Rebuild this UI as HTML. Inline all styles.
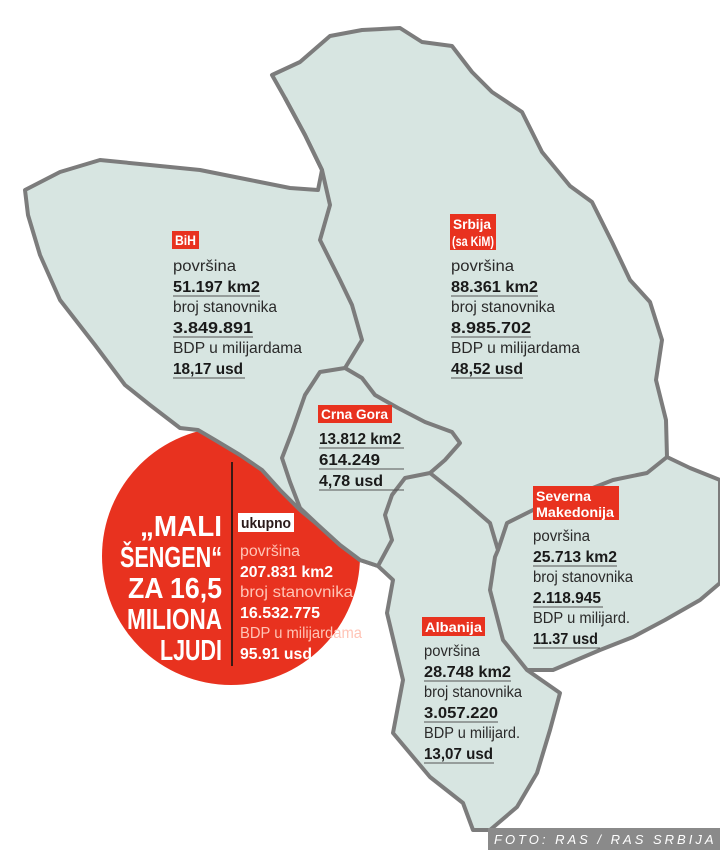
<!DOCTYPE html>
<html><head><meta charset="utf-8"><style>
body{margin:0;background:#fff;}
svg{display:block}
text{font-family:"Liberation Sans",sans-serif;}
.l{font-size:16px;fill:#2a2a2a}
.b{font-size:16px;fill:#1a1a1a;font-weight:bold}
.t{font-size:14px;fill:#fff;font-weight:bold}
.u{stroke:#555;stroke-width:1}
</style></head><body>
<svg width="720" height="866" viewBox="0 0 720 866">
<rect width="720" height="866" fill="#fff"/>
<circle cx="231" cy="556" r="129" fill="#e8321f"/>
<g fill="#d7e5e1" stroke="#7c7c7c" stroke-width="4" stroke-linejoin="round">
<path d="M272,75 L300,62 L330,36 L362,30 L400,28 L422,42 L452,46 L472,72 L492,92 L522,112 L542,152 L570,186 L592,202 L612,242 L630,280 L650,302 L662,340 L656,380 L666,420 L667,457 L690,468 L720,480 L720,583 L700,600 L665,620 L633,637 L600,650 L553,670 L527,670 L560,693 L550,730 L537,773 L517,807 L490,830 L473,830 L463,803 L430,777 L393,733 L403,680 L387,613 L393,580 L378,566 L360,560 L340,545 L318,525 L300,510 L280,490 L262,470 L240,455 L215,440 L198,430 L180,428 L150,405 L125,385 L95,345 L60,300 L40,255 L28,215 L25,190 L60,172 L100,160 L150,165 L200,170 L250,180 L290,188 L318,190 L322,170 L305,135 L285,98 Z"/>
<path fill="none" d="M285,98 L305,135 L322,170 L330,205 L320,240 L340,280 L352,305 L362,340 L345,368"/>
<path d="M345,368 L320,372 L305,395 L292,432 L282,458 L290,482 L300,508 L318,525 L340,545 L360,560 L378,566 L392,540 L385,515 L392,495 L405,478 L430,473 L445,460 L460,443 L452,432 L425,422 L398,408 L375,395 L362,378 Z"/>
<path fill="none" d="M430,473 L460,497 L490,523 L498,550 L495,557 L490,590 L503,640 L527,670"/>
<path fill="none" d="M498,550 L507,523 L533,510 L575,495 L613,480 L647,473 L667,457"/>
</g>
<g lengthAdjust="spacingAndGlyphs">
<!-- BiH -->
<rect x="172" y="231" width="27" height="18" fill="#e8321f"/><text class="t" x="175" y="245" textLength="21" lengthAdjust="spacingAndGlyphs">BiH</text>
<text class="l" x="173" y="271" textLength="63" lengthAdjust="spacingAndGlyphs">površina</text>
<text class="b" x="173" y="292" textLength="87" lengthAdjust="spacingAndGlyphs">51.197 km2</text><line class="u" x1="173" y1="296" x2="260" y2="296"/>
<text class="l" x="173" y="312" textLength="104" lengthAdjust="spacingAndGlyphs">broj stanovnika</text>
<text class="b" x="173" y="333" textLength="80" lengthAdjust="spacingAndGlyphs">3.849.891</text><line class="u" x1="173" y1="337" x2="253" y2="337"/>
<text class="l" x="173" y="353" textLength="129" lengthAdjust="spacingAndGlyphs">BDP u milijardama</text>
<text class="b" x="173" y="374" textLength="70" lengthAdjust="spacingAndGlyphs">18,17 usd</text><line class="u" x1="173" y1="378" x2="245" y2="378"/>
<!-- Srbija -->
<rect x="450" y="214" width="46" height="36" fill="#e8321f"/><text class="t" x="453" y="229" textLength="38" lengthAdjust="spacingAndGlyphs">Srbija</text><text class="t" x="452" y="246" textLength="42" lengthAdjust="spacingAndGlyphs">(sa KiM)</text>
<text class="l" x="451" y="271" textLength="63" lengthAdjust="spacingAndGlyphs">površina</text>
<text class="b" x="451" y="292" textLength="87" lengthAdjust="spacingAndGlyphs">88.361 km2</text><line class="u" x1="451" y1="296" x2="538" y2="296"/>
<text class="l" x="451" y="312" textLength="104" lengthAdjust="spacingAndGlyphs">broj stanovnika</text>
<text class="b" x="451" y="333" textLength="80" lengthAdjust="spacingAndGlyphs">8.985.702</text><line class="u" x1="451" y1="337" x2="531" y2="337"/>
<text class="l" x="451" y="353" textLength="129" lengthAdjust="spacingAndGlyphs">BDP u milijardama</text>
<text class="b" x="451" y="374" textLength="72" lengthAdjust="spacingAndGlyphs">48,52 usd</text><line class="u" x1="451" y1="378" x2="523" y2="378"/>
<!-- Crna Gora -->
<rect x="318" y="405" width="74" height="18" fill="#e8321f"/><text class="t" x="321" y="419" textLength="67" lengthAdjust="spacingAndGlyphs">Crna Gora</text>
<text class="b" x="319" y="444" textLength="82" lengthAdjust="spacingAndGlyphs">13.812 km2</text><line class="u" x1="319" y1="448" x2="404" y2="448"/>
<text class="b" x="319" y="465" textLength="61" lengthAdjust="spacingAndGlyphs">614.249</text><line class="u" x1="319" y1="469" x2="404" y2="469"/>
<text class="b" x="319" y="486" textLength="64" lengthAdjust="spacingAndGlyphs">4,78 usd</text><line class="u" x1="319" y1="490" x2="404" y2="490"/>
<!-- Makedonija -->
<rect x="533" y="486" width="86" height="34" fill="#e8321f"/><text class="t" x="536" y="501" textLength="55" lengthAdjust="spacingAndGlyphs">Severna</text><text class="t" x="536" y="517" textLength="78" lengthAdjust="spacingAndGlyphs">Makedonija</text>
<text class="l" x="533" y="541" textLength="57" lengthAdjust="spacingAndGlyphs">površina</text>
<text class="b" x="533" y="562" textLength="84" lengthAdjust="spacingAndGlyphs">25.713 km2</text><line class="u" x1="533" y1="566" x2="617" y2="566"/>
<text class="l" x="533" y="582" textLength="100" lengthAdjust="spacingAndGlyphs">broj stanovnika</text>
<text class="b" x="533" y="603" textLength="68" lengthAdjust="spacingAndGlyphs">2.118.945</text><line class="u" x1="533" y1="607" x2="603" y2="607"/>
<text class="l" x="533" y="623" textLength="97" lengthAdjust="spacingAndGlyphs">BDP u milijard.</text>
<text class="b" x="533" y="644" textLength="65" lengthAdjust="spacingAndGlyphs">11.37 usd</text><line class="u" x1="533" y1="648" x2="600" y2="648"/>
<!-- Albanija -->
<rect x="422" y="617" width="63" height="19" fill="#e8321f"/><text class="t" x="425" y="632" textLength="57" lengthAdjust="spacingAndGlyphs">Albanija</text>
<text class="l" x="424" y="656" textLength="56" lengthAdjust="spacingAndGlyphs">površina</text>
<text class="b" x="424" y="677" textLength="87" lengthAdjust="spacingAndGlyphs">28.748 km2</text><line class="u" x1="424" y1="681" x2="511" y2="681"/>
<text class="l" x="424" y="697" textLength="98" lengthAdjust="spacingAndGlyphs">broj stanovnika</text>
<text class="b" x="424" y="718" textLength="74" lengthAdjust="spacingAndGlyphs">3.057.220</text><line class="u" x1="424" y1="722" x2="498" y2="722"/>
<text class="l" x="424" y="738" textLength="96" lengthAdjust="spacingAndGlyphs">BDP u milijard.</text>
<text class="b" x="424" y="759" textLength="69" lengthAdjust="spacingAndGlyphs">13,07 usd</text><line class="u" x1="424" y1="763" x2="494" y2="763"/>
</g>
<!-- circle text -->
<line x1="232" y1="462" x2="232" y2="666" stroke="#3a1a14" stroke-width="2"/>
<g font-weight="bold" fill="#fff" text-anchor="end" font-size="29">
<text x="222" y="536" textLength="82" lengthAdjust="spacingAndGlyphs">„MALI</text>
<text x="222" y="567" textLength="102" lengthAdjust="spacingAndGlyphs">ŠENGEN“</text>
<text x="222" y="598" textLength="94" lengthAdjust="spacingAndGlyphs">ZA 16,5</text>
<text x="222" y="629" textLength="95" lengthAdjust="spacingAndGlyphs">MILIONA</text>
<text x="222" y="660" textLength="62" lengthAdjust="spacingAndGlyphs">LJUDI</text>
</g>
<rect x="238" y="513" width="56" height="19" fill="#fff"/><text x="241" y="528" font-size="15" font-weight="bold" fill="#2a1a1a" textLength="50" lengthAdjust="spacingAndGlyphs">ukupno</text>
<text x="240" y="556" font-size="16" fill="#ffc4b6" textLength="60" lengthAdjust="spacingAndGlyphs">površina</text>
<text x="240" y="577" font-size="16" fill="#fff" font-weight="bold" textLength="93" lengthAdjust="spacingAndGlyphs">207.831 km2</text>
<text x="240" y="597" font-size="16" fill="#ffc4b6" textLength="113" lengthAdjust="spacingAndGlyphs">broj stanovnika</text>
<text x="240" y="618" font-size="16" fill="#fff" font-weight="bold" textLength="80" lengthAdjust="spacingAndGlyphs">16.532.775</text>
<text x="240" y="638" font-size="16" fill="#ffc4b6" textLength="122" lengthAdjust="spacingAndGlyphs">BDP u milijardama</text>
<text x="240" y="659" font-size="16" fill="#fff" font-weight="bold" textLength="72" lengthAdjust="spacingAndGlyphs">95.91 usd</text>
<!-- footer -->
<rect x="488" y="828" width="232" height="22" fill="#8a8a8a"/>
<text x="494" y="844" font-size="13" fill="#fff" font-style="italic" letter-spacing="3">FOTO: RAS / RAS SRBIJA</text>
</svg>
</body></html>
